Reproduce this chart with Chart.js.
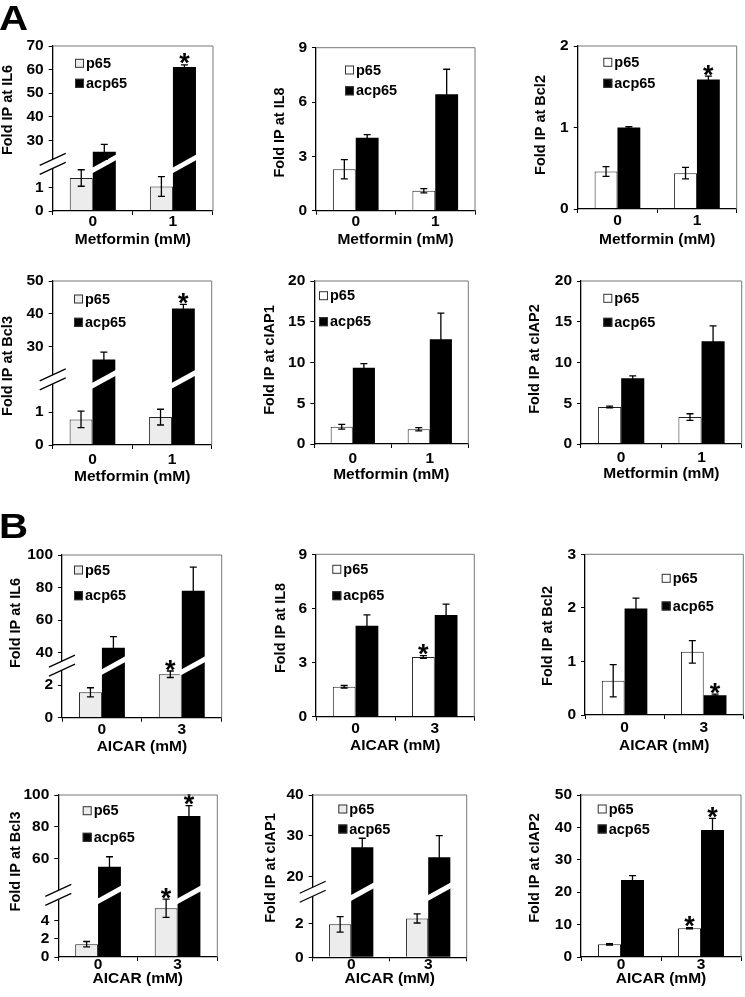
<!DOCTYPE html>
<html><head><meta charset="utf-8">
<script src="https://cdn.jsdelivr.net/npm/chart.js@4.4.1/dist/chart.umd.min.js"></script>
<style>
html,body{margin:0;padding:0;background:#fff;}
#wrap{position:relative;width:745px;height:997px;overflow:hidden;background:#fff;}
#wrap canvas{position:absolute;left:0;top:0;}
.lbl{position:absolute;left:-1px;font:bold 35px 'Liberation Sans',Arial,sans-serif;line-height:1;z-index:5;color:#000;transform:scaleX(1.15);transform-origin:0 0;}
</style></head><body>
<div id="wrap">
<div class="lbl" style="top:0px">A</div>
<div class="lbl" style="top:508px">B</div>
</div>
<script>
// ---------------- DATA ----------------
const metforminDoses = ['0', '1'];
const aicarDoses = ['0', '3'];
const seriesNames = ['p65', 'acp65'];

// Panel A (Metformin)
const A_IL6_p65 = [1.4, 1.04];     const A_IL6_p65Err = [0.35, 0.42];
const A_IL6_acp65 = [25.1, 61.1];  const A_IL6_acp65Err = [3.2, 0.9];
const A_IL6_p65Star = [0, 0];      const A_IL6_acp65Star = [0, 1];
const A_IL6_ticks = [0, 1, 30, 40, 50, 60, 70];

const A_IL8_p65 = [2.29, 1.1];     const A_IL8_p65Err = [0.53, 0.12];
const A_IL8_acp65 = [4.03, 6.43];  const A_IL8_acp65Err = [0.17, 1.38];
const A_IL8_p65Star = [0, 0];      const A_IL8_acp65Star = [0, 0];
const A_IL8_ticks = [0, 3, 6, 9];

const A_Bcl2_p65 = [0.46, 0.44];   const A_Bcl2_p65Err = [0.06, 0.07];
const A_Bcl2_acp65 = [1.0, 1.59];  const A_Bcl2_acp65Err = [0.01, 0.04];
const A_Bcl2_p65Star = [0, 0];     const A_Bcl2_acp65Star = [0, 1];
const A_Bcl2_ticks = [0, 1, 2];

const A_Bcl3_p65 = [0.78, 0.85];   const A_Bcl3_p65Err = [0.25, 0.24];
const A_Bcl3_acp65 = [26.1, 41.6]; const A_Bcl3_acp65Err = [2.2, 1.3];
const A_Bcl3_p65Star = [0, 0];     const A_Bcl3_acp65Star = [0, 1];
const A_Bcl3_ticks = [0, 1, 30, 40, 50];

const A_cIAP1_p65 = [2.12, 1.8];   const A_cIAP1_p65Err = [0.3, 0.2];
const A_cIAP1_acp65 = [9.36, 12.85]; const A_cIAP1_acp65Err = [0.5, 3.2];
const A_cIAP1_p65Star = [0, 0];    const A_cIAP1_acp65Star = [0, 0];
const A_cIAP1_ticks = [0, 5, 10, 15, 20];

const A_cIAP2_p65 = [4.54, 3.31];  const A_cIAP2_p65Err = [0.1, 0.4];
const A_cIAP2_acp65 = [8.06, 12.6]; const A_cIAP2_acp65Err = [0.3, 1.9];
const A_cIAP2_p65Star = [0, 0];    const A_cIAP2_acp65Star = [0, 0];
const A_cIAP2_ticks = [0, 5, 10, 15, 20];

// Panel B (AICAR)
const B_IL6_p65 = [1.56, 2.67];    const B_IL6_p65Err = [0.28, 0.2];
const B_IL6_acp65 = [43, 78];      const B_IL6_acp65Err = [6.8, 14.6];
const B_IL6_p65Star = [0, 1];      const B_IL6_acp65Star = [0, 0];
const B_IL6_ticks = [0, 2, 40, 60, 80, 100];

const B_IL8_p65 = [1.66, 3.31];    const B_IL8_p65Err = [0.07, 0.07];
const B_IL8_acp65 = [5.04, 5.64];  const B_IL8_acp65Err = [0.6, 0.6];
const B_IL8_p65Star = [0, 1];      const B_IL8_acp65Star = [0, 0];
const B_IL8_ticks = [0, 3, 6, 9];

const B_Bcl2_p65 = [0.64, 1.18];   const B_Bcl2_p65Err = [0.3, 0.21];
const B_Bcl2_acp65 = [1.99, 0.37]; const B_Bcl2_acp65Err = [0.19, 0.02];
const B_Bcl2_p65Star = [0, 0];     const B_Bcl2_acp65Star = [0, 1];
const B_Bcl2_ticks = [0, 1, 2, 3];

const B_Bcl3_p65 = [1.4, 5.35];    const B_Bcl3_p65Err = [0.3, 1.0];
const B_Bcl3_acp65 = [55.2, 86.9]; const B_Bcl3_acp65Err = [6.2, 6.4];
const B_Bcl3_p65Star = [0, 1];     const B_Bcl3_acp65Star = [0, 1];
const B_Bcl3_ticks = [0, 2, 4, 60, 80, 100];

const B_cIAP1_p65 = [1.94, 2.29];  const B_cIAP1_p65Err = [0.46, 0.27];
const B_cIAP1_acp65 = [27.2, 24.75]; const B_cIAP1_acp65Err = [2.2, 5.3];
const B_cIAP1_p65Star = [0, 0];    const B_cIAP1_acp65Star = [0, 0];
const B_cIAP1_ticks = [0, 2, 20, 30, 40];

const B_cIAP2_p65 = [3.9, 8.86];   const B_cIAP2_p65Err = [0.2, 0.2];
const B_cIAP2_acp65 = [23.8, 39.2]; const B_cIAP2_acp65Err = [1.3, 3.6];
const B_cIAP2_p65Star = [0, 1];    const B_cIAP2_acp65Star = [0, 1];
const B_cIAP2_ticks = [0, 10, 20, 30, 40, 50];

const yTitles = ['Fold IP at IL6', 'Fold IP at IL8', 'Fold IP at Bcl2', 'Fold IP at Bcl3', 'Fold IP at cIAP1', 'Fold IP at cIAP2'];
const xTitleA = 'Metformin (mM)';
const xTitleB = 'AICAR (mM)';

// ---------------- PANELS (data wiring) ----------------
function panel(cats, yTitle, xTitle, p65, p65Err, p65Star, acp65, acp65Err, acp65Star, ticks) {
  return {cats, yTitle, xTitle, p65, p65Err, p65Star, acp65, acp65Err, acp65Star, ticks};
}
const PANELS = [
  panel(metforminDoses, yTitles[0], xTitleA, A_IL6_p65, A_IL6_p65Err, A_IL6_p65Star, A_IL6_acp65, A_IL6_acp65Err, A_IL6_acp65Star, A_IL6_ticks),
  panel(metforminDoses, yTitles[1], xTitleA, A_IL8_p65, A_IL8_p65Err, A_IL8_p65Star, A_IL8_acp65, A_IL8_acp65Err, A_IL8_acp65Star, A_IL8_ticks),
  panel(metforminDoses, yTitles[2], xTitleA, A_Bcl2_p65, A_Bcl2_p65Err, A_Bcl2_p65Star, A_Bcl2_acp65, A_Bcl2_acp65Err, A_Bcl2_acp65Star, A_Bcl2_ticks),
  panel(metforminDoses, yTitles[3], xTitleA, A_Bcl3_p65, A_Bcl3_p65Err, A_Bcl3_p65Star, A_Bcl3_acp65, A_Bcl3_acp65Err, A_Bcl3_acp65Star, A_Bcl3_ticks),
  panel(metforminDoses, yTitles[4], xTitleA, A_cIAP1_p65, A_cIAP1_p65Err, A_cIAP1_p65Star, A_cIAP1_acp65, A_cIAP1_acp65Err, A_cIAP1_acp65Star, A_cIAP1_ticks),
  panel(metforminDoses, yTitles[5], xTitleA, A_cIAP2_p65, A_cIAP2_p65Err, A_cIAP2_p65Star, A_cIAP2_acp65, A_cIAP2_acp65Err, A_cIAP2_acp65Star, A_cIAP2_ticks),
  panel(aicarDoses, yTitles[0], xTitleB, B_IL6_p65, B_IL6_p65Err, B_IL6_p65Star, B_IL6_acp65, B_IL6_acp65Err, B_IL6_acp65Star, B_IL6_ticks),
  panel(aicarDoses, yTitles[1], xTitleB, B_IL8_p65, B_IL8_p65Err, B_IL8_p65Star, B_IL8_acp65, B_IL8_acp65Err, B_IL8_acp65Star, B_IL8_ticks),
  panel(aicarDoses, yTitles[2], xTitleB, B_Bcl2_p65, B_Bcl2_p65Err, B_Bcl2_p65Star, B_Bcl2_acp65, B_Bcl2_acp65Err, B_Bcl2_acp65Star, B_Bcl2_ticks),
  panel(aicarDoses, yTitles[3], xTitleB, B_Bcl3_p65, B_Bcl3_p65Err, B_Bcl3_p65Star, B_Bcl3_acp65, B_Bcl3_acp65Err, B_Bcl3_acp65Star, B_Bcl3_ticks),
  panel(aicarDoses, yTitles[4], xTitleB, B_cIAP1_p65, B_cIAP1_p65Err, B_cIAP1_p65Star, B_cIAP1_acp65, B_cIAP1_acp65Err, B_cIAP1_acp65Star, B_cIAP1_ticks),
  panel(aicarDoses, yTitles[5], xTitleB, B_cIAP2_p65, B_cIAP2_p65Err, B_cIAP2_p65Star, B_cIAP2_acp65, B_cIAP2_acp65Err, B_cIAP2_acp65Star, B_cIAP2_ticks)
];

// ---------------- LAYOUT (positions / axis breaks) ----------------
const LAYOUT = [
  {area:[52.7,46,213,211], brk:{lo:[0,2],hi:[20,70],at:2/7}, leg:[75,63.3,20], yt:[8.3,110], tpad:-2.7, xh:37.6},
  {area:[316,47.7,475,210.7], leg:[345,70,20.8], yt:[280,132.5], tpad:-2.7, xh:37.9},
  {area:[577.7,46,736.7,209], leg:[603.3,62.3,21], yt:[541,125], tpad:-2, xh:39.6},
  {area:[52.7,281,211.7,445], brk:{lo:[0,2],hi:[20,50],at:0.4}, leg:[74,299,23.3], yt:[8.3,366], tpad:1.2, xh:41},
  {area:[314.3,281,468.3,444], leg:[319,295.7,26], yt:[270,360], tpad:1.7, xh:39.8},
  {area:[581,281,741.7,444], leg:[603.3,298.3,24], yt:[535,359], tpad:0, xh:38.6},
  {area:[62,555,221.7,717.7], brk:{lo:[0,3.2],hi:[32,100],at:0.32}, leg:[74,570,25.7], yt:[16,623], tpad:-1.7, xh:38.8},
  {area:[316,554.3,474.3,716.7], leg:[332.3,569.3,26.4], yt:[281,628], tpad:-1, xh:38.4},
  {area:[585,554.3,743.3,715], leg:[661.7,578.3,27.7], yt:[548,636], tpad:-0.5, xh:40.5},
  {area:[58.3,795,217.3,957], brk:{lo:[0,6.8],hi:[37.5,100],at:0.383}, leg:[82.7,810.7,26.6], yt:[16,861.5], tpad:-6, xh:31.3},
  {area:[312.7,795,466.7,957.3], brk:{lo:[0,3.86],hi:[16.3,40],at:0.404}, leg:[338.3,809,20], yt:[271,868], tpad:-5.8, xh:31.2},
  {area:[581,795,741,957], leg:[597.7,809,20], yt:[535,868], tpad:-5.5, xh:31.5}
];

const FONT = "'Liberation Sans', Arial, Helvetica, sans-serif";
Chart.defaults.font.family = FONT;
Chart.defaults.font.weight = 'bold';
Chart.defaults.color = '#000';

// ---------------- Broken linear scale ----------------
const BRKS = {};
const LinearBase = Chart.LinearScale || Chart.registry.getScale('linear');
class BrokenLinearScale extends LinearBase {
  getPixelForValue(value) {
    const b = BRKS[this.chart.canvas.id];
    if (!b) return super.getPixelForValue(value);
    let f;
    if (value <= b.lo[1]) f = (value - b.lo[0]) / (b.lo[1] - b.lo[0]) * b.at;
    else if (value >= b.hi[0]) f = b.at + (value - b.hi[0]) / (b.hi[1] - b.hi[0]) * (1 - b.at);
    else f = b.at;
    return this.getPixelForDecimal(f);
  }
}
BrokenLinearScale.id = 'brokenLinear';
BrokenLinearScale.defaults = {};
Chart.register(BrokenLinearScale);

function makeDecor(P, Lo) {
  return {
    id: 'decor',
    afterDatasetsDraw(chart) {
      const ctx = chart.ctx, ys = chart.scales.y;
      ctx.save();
      if (Lo.brk) {
        const yb = ys.getPixelForDecimal(Lo.brk.at);
        chart.data.datasets.forEach((ds, di) => {
          chart.getDatasetMeta(di).data.forEach((el, i) => {
            if (ds.data[i] > Lo.brk.lo[1]) {
              const hw = el.width / 2 + 2.5;
              ctx.strokeStyle = '#fff'; ctx.lineWidth = 5; ctx.lineCap = 'butt';
              ctx.beginPath();
              ctx.moveTo(el.x - hw, yb + hw * 0.55);
              ctx.lineTo(el.x + hw, yb - hw * 0.55);
              ctx.stroke();
            }
          });
        });
      }
      chart.data.datasets.forEach((ds, di) => {
        chart.getDatasetMeta(di).data.forEach((el, i) => {
          const v = ds.data[i], e = ds.errors[i];
          const yT = ys.getPixelForValue(v + e), yB = ys.getPixelForValue(Math.max(0, v - e));
          ctx.strokeStyle = '#000'; ctx.lineWidth = 1.3;
          ctx.beginPath();
          ctx.moveTo(el.x, yT); ctx.lineTo(el.x, yB);
          ctx.moveTo(el.x - 3.5, yT); ctx.lineTo(el.x + 3.5, yT);
          ctx.moveTo(el.x - 3.5, yB); ctx.lineTo(el.x + 3.5, yB);
          ctx.stroke();
          if (ds.stars[i]) {
            ctx.fillStyle = '#000';
            ctx.font = 'bold 27px ' + FONT;
            ctx.textAlign = 'center'; ctx.textBaseline = 'alphabetic';
            ctx.fillText('*', el.x, yT + 7.5);
          }
        });
      });
      ctx.restore();
    },
    afterDraw(chart) {
      const ctx = chart.ctx, ca = chart.chartArea, ys = chart.scales.y;
      ctx.save();
      ctx.strokeStyle = '#777'; ctx.lineWidth = 1;
      ctx.beginPath();
      ctx.moveTo(ca.left, ca.top); ctx.lineTo(ca.right, ca.top); ctx.lineTo(ca.right, ca.bottom);
      ctx.stroke();
      if (Lo.brk) {
        const yb = ys.getPixelForDecimal(Lo.brk.at), ax = ca.left, dx = 13, dy = 6, g = 4.5;
        ctx.fillStyle = '#fff';
        ctx.beginPath();
        ctx.moveTo(ax - dx, yb - g + dy); ctx.lineTo(ax + dx, yb - g - dy);
        ctx.lineTo(ax + dx, yb + g - dy); ctx.lineTo(ax - dx, yb + g + dy);
        ctx.closePath(); ctx.fill();
        ctx.strokeStyle = '#000'; ctx.lineWidth = 1.3;
        ctx.beginPath();
        ctx.moveTo(ax - dx, yb - g + dy); ctx.lineTo(ax + dx, yb - g - dy);
        ctx.moveTo(ax - dx, yb + g + dy); ctx.lineTo(ax + dx, yb + g - dy);
        ctx.stroke();
      }
      const [lx, ly, sp] = Lo.leg;
      chart.data.datasets.forEach((ds, i) => {
        const cy = ly + i * sp;
        ctx.fillStyle = ds.backgroundColor;
        ctx.fillRect(lx, cy - 4.5, 9, 9);
        ctx.strokeStyle = '#333'; ctx.lineWidth = 1;
        ctx.strokeRect(lx + 0.5, cy - 4, 8, 8);
        ctx.fillStyle = '#000';
        ctx.font = 'bold 14.5px ' + FONT;
        ctx.textAlign = 'left'; ctx.textBaseline = 'middle';
        ctx.fillText(ds.label, lx + 11, cy + 0.5);
      });
      ctx.translate(Lo.yt[0], Lo.yt[1]);
      ctx.rotate(-Math.PI / 2);
      ctx.fillStyle = '#000';
      ctx.font = 'bold 14.5px ' + FONT;
      ctx.textAlign = 'center'; ctx.textBaseline = 'middle';
      ctx.fillText(P.yTitle, 0, 0);
      ctx.restore();
    }
  };
}

const YW = 45;
const wrap = document.getElementById('wrap');
PANELS.forEach((P, idx) => {
  const Lo = LAYOUT[idx];
  const c = document.createElement('canvas');
  c.id = 'panel' + idx;
  c.width = 745; c.height = 997;
  c.style.width = '745px'; c.style.height = '997px';
  wrap.appendChild(c);
  if (Lo.brk) BRKS[c.id] = Lo.brk;
  const [l, t, r, b] = Lo.area;
  new Chart(c, {
    type: 'bar',
    data: {
      labels: P.cats,
      datasets: [
        {label: seriesNames[0], data: P.p65, errors: P.p65Err, stars: P.p65Star,
         backgroundColor: Lo.brk ? '#ececec' : '#ffffff', borderColor: '#222', borderWidth: 1,
         categoryPercentage: 0.575, barPercentage: 1},
        {label: seriesNames[1], data: P.acp65, errors: P.acp65Err, stars: P.acp65Star,
         backgroundColor: '#000000', borderColor: '#000000', borderWidth: 0,
         categoryPercentage: 0.575, barPercentage: 1}
      ]
    },
    options: {
      responsive: false, animation: false, devicePixelRatio: 1, events: [],
      layout: {padding: {left: l - YW, top: t, right: 745 - r, bottom: 997 - b - Lo.xh}},
      plugins: {legend: {display: false}, tooltip: {enabled: false}, title: {display: false}},
      scales: {
        x: {
          type: 'category',
          grid: {display: true, drawOnChartArea: false, drawTicks: true, tickLength: 4, color: '#000', lineWidth: 1, offset: true},
          border: {display: true, color: '#000', width: 1.3, z: 1},
          ticks: {font: {size: 15.5, weight: 'bold'}, padding: Lo.tpad, autoSkip: false, maxRotation: 0, color: '#000'},
          title: {display: true, text: P.xTitle, font: {size: 15.5, weight: 'bold'}, padding: 0, color: '#000'},
          afterFit: s => { s.height = Lo.xh; }
        },
        y: {
          type: 'brokenLinear', min: 0, max: P.ticks[P.ticks.length - 1],
          grid: {display: true, drawOnChartArea: false, drawTicks: true, tickLength: 4, color: '#000', lineWidth: 1},
          border: {display: true, color: '#000', width: 1.3, z: 1},
          ticks: {font: {size: 15.5, weight: 'bold'}, padding: 5, autoSkip: false, color: '#000', callback: v => String(v)},
          afterBuildTicks: s => { s.ticks = P.ticks.map(v => ({value: v})); },
          afterFit: s => { s.width = YW; }
        }
      }
    },
    plugins: [makeDecor(P, Lo)]
  });
});
</script>
</body></html>
